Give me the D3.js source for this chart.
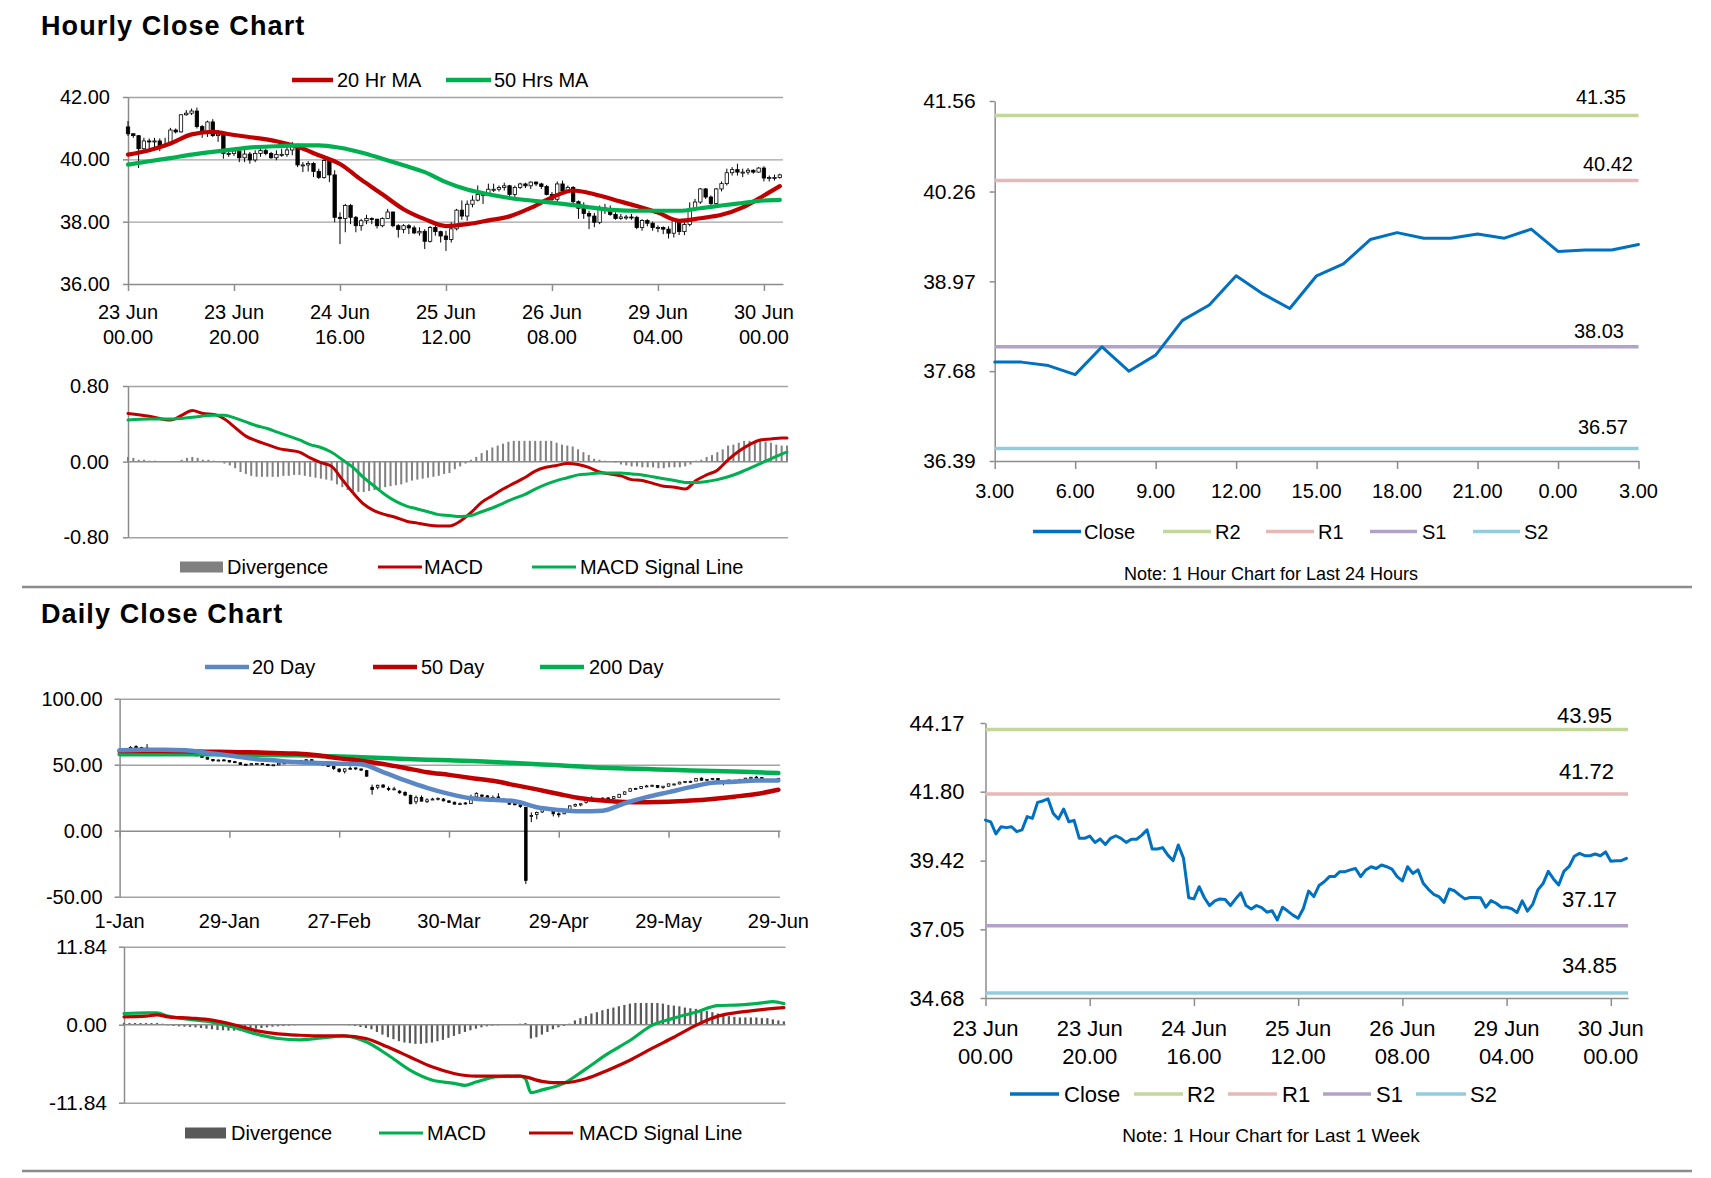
<!DOCTYPE html>
<html>
<head>
<meta charset="utf-8">
<script src="https://cdn.jsdelivr.net/npm/d3@7"></script>
<style>
  body { margin: 0; background: #fff; }
  svg { display: block; }
</style>
</head>
<body>
<svg id="chart" width="1711" height="1178"></svg>
<script>
// ---- data ----
const hourTickIdx = [0, 20, 40, 60, 80, 100, 120];
const hourTickLabels = [["23 Jun","00.00"],["23 Jun","20.00"],["24 Jun","16.00"],["25 Jun","12.00"],["26 Jun","08.00"],["29 Jun","04.00"],["30 Jun","00.00"]];

const hourFirstOpen = 41.04;
const hourClose = [
  40.82,40.76,40.34,40.59,40.56,40.59,40.42,40.48,40.94,40.88,
  41.43,41.48,41.55,41.05,40.86,41.20,40.76,40.81,40.19,40.19,
  40.27,40.05,40.17,39.98,40.19,40.28,40.19,40.05,40.16,40.16,
  40.30,40.48,39.82,39.82,39.87,39.61,39.42,39.96,39.50,38.14,
  38.10,38.52,38.14,37.87,38.03,38.10,38.08,37.87,38.10,38.31,
  37.87,37.75,37.87,37.80,37.64,37.69,37.37,37.81,37.68,37.54,
  37.43,37.77,38.37,38.18,38.56,38.69,38.87,38.87,39.04,39.04,
  39.10,39.15,38.87,39.10,39.21,39.15,39.27,39.21,39.13,38.87,
  38.72,39.21,38.98,39.10,38.64,38.43,38.26,38.18,37.98,38.44,
  38.38,38.23,38.10,38.15,38.15,38.14,37.81,38.04,37.95,
  37.81,37.81,37.76,37.63,38.03,37.68,37.91,38.41,38.63,39.05,
  38.79,38.58,39.05,39.22,39.57,39.67,39.59,39.59,39.65,39.59,
  39.72,39.40,39.42,39.42,39.50
];
const hourHigh = [
  41.23,40.84,40.77,40.69,40.67,40.69,40.67,40.69,41.01,40.99,
  41.44,41.58,41.63,41.66,41.10,41.24,41.29,40.94,40.85,40.34,
  40.34,40.30,40.34,40.24,40.29,40.37,40.34,40.24,40.29,40.34,
  40.40,40.56,40.51,39.91,39.94,39.91,39.70,40.02,39.97,39.65,
  38.30,38.57,38.57,38.18,38.09,38.22,38.14,38.09,38.14,38.41,
  38.32,37.92,37.92,37.92,37.87,37.82,37.76,37.86,37.95,37.71,
  37.71,37.98,38.41,38.68,38.68,38.84,39.16,38.95,39.22,39.22,
  39.16,39.25,39.18,39.16,39.25,39.25,39.29,39.29,39.25,39.18,
  38.95,39.29,39.32,39.16,39.14,38.68,38.62,38.35,38.28,38.52,
  38.57,38.52,38.30,38.25,38.22,38.25,38.19,38.08,38.08,38.00,
  37.88,37.85,37.85,38.06,38.08,37.98,38.62,38.73,39.08,39.08,
  38.84,39.08,39.29,39.70,39.75,39.86,39.70,39.72,39.68,39.75,
  39.78,39.48,39.51,39.54
];
const hourLow = [
  40.75,40.69,39.72,40.29,40.34,40.29,40.26,40.38,40.45,40.83,
  40.86,41.40,41.42,40.99,40.69,40.72,40.72,40.56,40.02,40.08,
  40.11,39.91,39.91,39.86,39.91,40.08,40.13,40.02,39.97,40.08,
  40.08,40.13,39.75,39.59,39.61,39.43,39.37,39.38,39.27,37.98,
  37.28,37.66,37.92,37.66,37.71,37.92,37.92,37.78,37.82,38.09,
  37.82,37.49,37.63,37.60,37.60,37.55,37.12,37.33,37.55,37.33,
  37.06,37.33,37.72,38.06,38.03,38.46,38.65,38.57,38.84,38.95,
  38.97,39.00,38.82,38.78,39.05,39.08,39.05,39.14,39.05,38.84,
  38.62,38.62,38.95,38.92,38.54,38.09,38.09,37.76,37.82,37.92,
  38.25,38.19,38.06,38.06,38.06,38.06,37.76,37.71,37.85,37.71,
  37.66,37.60,37.46,37.49,37.57,37.57,37.85,38.35,38.57,38.73,
  38.52,38.54,38.97,39.16,39.48,39.48,39.43,39.51,39.54,39.57,
  39.29,39.29,39.32,39.38
];

const hourMaIdx = [0,4,8,12,16,20,24,28,32,36,40,44,48,52,56,60,64,68,72,76,80,84,88,92,96,100,104,108,112,116,120,123];
const hourMa20 = [40.15,40.29,40.51,40.80,40.88,40.78,40.69,40.58,40.40,40.13,39.85,39.35,38.88,38.40,38.08,37.86,37.92,38.04,38.17,38.44,38.78,39.00,38.88,38.69,38.50,38.29,38.03,38.11,38.22,38.46,38.84,39.14];
const hourMa50 = [39.83,39.94,40.04,40.15,40.24,40.32,40.39,40.42,40.45,40.45,40.37,40.22,40.02,39.81,39.59,39.27,39.03,38.88,38.76,38.68,38.61,38.53,38.44,38.37,38.35,38.35,38.35,38.43,38.52,38.60,38.68,38.70];

const hourMacd = [[0,.51],[4,.48],[8,.44],[10,.49],[12,.54],[14,.51],[16,.50],[18,.45],[20,.36],[22,.27],[24,.22],[26,.18],[28,.14],[30,.12],[32,.10],[34,.04],[36,-.01],[38,-.05],[40,-.19],[42,-.33],[44,-.45],[46,-.52],[48,-.56],[50,-.59],[52,-.63],[54,-.65],[56,-.67],[58,-.68],[60,-.68],[62,-.63],[64,-.54],[66,-.43],[68,-.36],[70,-.29],[72,-.23],[74,-.17],[76,-.10],[78,-.06],[80,-.04],[82,-.02],[84,-.03],[86,-.06],[88,-.11],[90,-.13],[92,-.15],[94,-.19],[96,-.20],[98,-.23],[100,-.26],[102,-.27],[104,-.29],[106,-.20],[108,-.14],[110,-.09],[112,.02],[114,.11],[116,.18],[118,.23],[120,.24],[122,.25],[123,.25]];
const hourSignal = [[0,.44],[4,.45],[8,.45],[12,.47],[16,.49],[18,.49],[20,.46],[22,.42],[24,.38],[26,.35],[28,.31],[30,.27],[32,.23],[34,.18],[36,.15],[38,.10],[40,.02],[42,-.06],[44,-.17],[46,-.26],[48,-.35],[50,-.42],[52,-.47],[54,-.50],[56,-.53],[58,-.56],[60,-.57],[62,-.58],[64,-.57],[66,-.53],[68,-.49],[70,-.44],[72,-.39],[74,-.35],[76,-.29],[78,-.24],[80,-.20],[82,-.17],[84,-.14],[86,-.13],[88,-.12],[90,-.12],[92,-.12],[94,-.13],[96,-.14],[98,-.16],[100,-.18],[102,-.20],[104,-.22],[106,-.22],[108,-.21],[110,-.19],[112,-.16],[114,-.12],[116,-.07],[118,-.02],[120,.03],[122,.08],[123,.10]];
const hourDiv = [
  .05,.04,.02,.02,.01,.01, 0,0,0,0, .02,.04,.05,.04, .02,.02,.01,0,
  -.02,-.04,-.07,-.11,-.13,-.15,
  -.16,-.16,-.16,-.16,-.16,-.15,-.15,-.14,-.14,-.15,
  -.16,-.17,-.18,-.19,-.20,
  -.24,-.27,-.30,-.32,-.32,-.32,-.31,-.30,-.29,-.27,-.26,
  -.25,-.24,-.22,-.20,-.19,-.18,-.17,-.16,-.15,-.13,-.12,-.08,-.05,-.02,
  .02,.05,.09,.12,.15,.17,.19,.21,
  .22,.22,.22,.22,.22,.22,.22,.22,
  .20,.18,.17,.16,.13,.10,.07,.03,.02,.01,
  0,-.01,-.03,-.04,-.05,-.05,-.06,-.06,-.06,-.07,-.07,-.06,-.06,-.06,-.05,
  -.03,.01,.02,.05,.07,.10,.13,.17,.18,.20,.22,.22,.22,.22,.21,.20,.18,.17,.17
];

// last 24 hours = last 25 hourly closes
const last24Close = hourClose.slice(99);
const last24TickIdx = [0,3,6,9,12,15,18,21,24];
const last24TickLabels = ["3.00","6.00","9.00","12.00","15.00","18.00","21.00","0.00","3.00"];
const last24YTicks = [36.39, 37.68, 38.97, 40.26, 41.56];
const levels24 = [["R2", 41.35], ["R1", 40.42], ["S1", 38.03], ["S2", 36.57]];

const weekYTicks = [34.68, 37.05, 39.42, 41.80, 44.17];
const levelsWeek = [["R2", 43.95], ["R1", 41.72], ["S1", 37.17], ["S2", 34.85]];

// daily
const dayTickIdx = [0, 20, 40, 60, 80, 100, 120];
const dayTickLabels = ["1-Jan","29-Jan","27-Feb","30-Mar","29-Apr","29-May","29-Jun"];
// [open, high, low, close]
const dayCandles = [
  [61.0,61.6,60.6,61.1],[61.6,61.9,60.7,61.2],[61.2,64.1,61.1,63.1],[63.7,64.7,62.5,63.3],[63.0,63.6,62.3,62.7],
  [62.6,65.6,59.2,59.6],[59.7,60.0,58.7,59.6],[59.6,59.9,58.6,59.0],[59.0,59.2,57.8,58.1],[58.2,58.7,57.7,58.2],
  [58.2,58.6,57.4,57.8],[57.8,58.8,57.6,58.5],[58.5,58.9,58.1,58.5],[58.6,59.7,58.1,58.3],[58.4,58.6,56.5,56.7],
  [56.8,57.0,55.1,55.6],[55.6,55.9,54.0,54.2],[54.0,54.2,52.1,53.1],[53.2,54.0,52.7,53.5],[53.6,54.3,53.1,53.3],
  [53.2,53.5,51.6,52.1],[52.3,52.9,51.2,51.6],[51.5,51.7,49.9,50.1],[50.4,50.6,49.3,49.6],[49.9,51.0,49.6,50.8],
  [50.6,51.3,50.2,51.0],[50.9,51.3,49.9,50.3],[50.3,50.6,49.3,49.6],[49.6,50.2,49.3,49.9],[49.9,51.4,49.7,51.2],
  [51.3,51.8,50.9,51.4],[51.4,52.3,51.2,52.1],[52.1,52.6,51.8,52.1],[52.1,53.5,51.7,53.3],[53.3,54.0,53.0,53.8],
  [53.8,54.0,53.0,53.4],[52.3,52.4,51.0,51.4],[51.4,51.8,49.5,49.9],[49.9,50.4,48.5,48.7],[48.7,48.8,45.9,47.1],
  [46.7,47.3,44.0,44.8],[45.0,47.3,43.3,46.8],[47.3,48.7,46.4,47.2],[47.6,47.7,46.0,46.8],[46.8,47.0,45.3,45.9],
  [45.5,46.1,41.0,41.3],[32.9,34.9,27.3,31.1],[32.9,34.9,31.4,34.4],[34.6,35.3,32.4,33.0],[32.0,33.5,30.0,31.5],
  [31.1,33.3,30.7,31.7],[30.0,30.7,28.0,28.7],[29.0,29.9,26.2,27.0],[26.8,27.3,20.1,20.4],[21.9,26.7,20.1,25.2],
  [25.2,26.7,22.2,22.4],[22.0,24.6,20.9,23.4],[23.7,24.9,23.4,24.0],[24.4,25.2,22.9,24.5],[24.0,24.7,22.3,22.6],
  [22.6,22.9,21.0,21.5],[21.6,21.9,19.9,20.1],[20.2,21.4,19.9,20.5],[21.0,21.6,19.9,20.3],[20.5,27.4,20.2,25.3],
  [25.6,29.1,25.3,28.3],[27.0,27.6,25.3,26.1],[26.4,27.0,23.1,23.6],[24.3,26.7,23.7,25.1],[25.6,28.4,22.6,22.8],
  [23.0,24.7,21.5,22.4],[21.8,22.4,19.8,20.1],[20.4,21.1,19.2,19.9],[19.6,20.1,17.3,18.3],[17.7,17.9,-40.3,-37.6],
  [11.0,13.9,6.5,11.6],[12.3,14.5,8.6,13.8],[14.2,17.0,13.5,16.5],[16.5,17.1,15.0,16.9],[15.7,15.8,10.8,12.8],
  [12.8,13.9,10.1,12.3],[12.8,16.3,12.5,15.1],[15.5,19.1,15.0,18.8],[18.7,20.5,18.0,19.8],[19.5,20.5,18.5,20.4],
  [21.3,24.7,20.6,24.6],[24.6,26.1,23.5,24.0],[23.9,24.8,22.9,23.6],[24.0,25.3,23.5,24.7],[24.9,25.0,23.6,24.1],
  [24.4,26.2,24.1,25.8],[25.3,27.8,25.2,27.6],[27.6,29.8,27.2,29.4],[29.9,32.5,29.6,31.8],[31.8,32.5,31.3,32.0],
  [32.0,33.6,31.5,33.5],[33.5,34.7,33.3,33.9],[34.4,34.9,33.3,34.4],[34.3,34.5,32.2,32.8],[32.8,33.8,31.7,33.7],
  [33.7,35.6,33.6,35.5],[35.3,35.6,34.3,35.4],[35.4,37.1,35.2,36.8],[36.6,37.7,36.0,37.3],[37.3,37.9,36.2,37.4],
  [37.6,39.7,37.5,39.6],[39.8,40.4,37.9,38.2],[38.2,39.2,37.5,38.9],[38.9,39.8,38.4,39.6],[39.5,39.6,35.9,36.3],
  [35.8,37.4,34.4,37.1],[37.1,38.5,36.5,38.4],[38.2,38.5,37.2,38.0],[38.0,39.3,37.6,38.8],[38.9,40.0,38.6,39.8],
  [39.7,40.7,39.6,40.5],[40.6,41.6,40.0,40.4],[40.2,40.4,37.8,38.0],[38.0,38.9,37.1,38.7],[38.7,39.0,37.9,38.5],
  [38.7,39.8,38.4,39.7]
];
const dayMaIdx = [0,4,8,12,16,20,24,28,32,36,40,44,48,52,56,60,64,68,72,76,80,84,88,92,96,100,104,108,112,116,120];
const dayMa20 = [60.9,61.3,61.4,60.9,58.9,56.9,54.6,53.3,52.0,51.3,50.8,50.3,44.4,38.1,32.5,27.9,24.6,23.4,22.3,17.8,15.7,14.7,15.2,20.8,25.4,29.2,33.0,36.3,37.1,38.1,38.1];
const dayMa50 = [60.4,60.4,60.4,60.1,59.9,59.6,59.4,58.9,58.4,57.1,54.8,53.0,50.5,47.5,44.3,42.3,40.0,37.8,34.5,31.3,27.8,24.6,22.8,21.8,21.6,21.9,22.8,24.1,25.8,27.8,31.0];
const dayMa200 = [57.9,57.9,57.9,57.9,57.9,57.9,57.6,57.4,57.1,56.7,56.3,55.7,55.1,54.4,53.8,53.3,52.8,52.0,51.3,50.4,49.5,48.6,47.7,47.2,46.7,46.2,45.7,45.3,44.9,44.3,43.7];

const dayMacd = [[0,1.7],[4,1.8],[6,1.8],[8,1.3],[12,.8],[16,.4],[20,-.4],[24,-1.4],[28,-2.1],[32,-2.3],[36,-2.0],[40,-1.7],[44,-2.6],[48,-4.6],[52,-6.9],[56,-8.4],[60,-8.9],[62,-9.2],[64,-8.7],[68,-7.9],[72,-7.8],[73,-8.2],[74,-10.3],[76,-9.9],[80,-8.9],[84,-6.7],[88,-4.4],[92,-2.4],[96,-.1],[100,1.0],[104,1.9],[108,2.9],[112,3.0],[116,3.3],[118,3.5],[120,3.2]];
const daySignal = [[0,1.2],[4,1.3],[6,1.5],[8,1.2],[12,1.0],[16,.7],[20,0],[24,-.9],[28,-1.4],[32,-1.6],[36,-1.7],[40,-1.7],[44,-2.1],[48,-3.4],[52,-4.9],[56,-6.4],[60,-7.4],[64,-7.8],[68,-7.8],[72,-7.8],[76,-8.6],[78,-8.8],[80,-8.8],[84,-8.2],[88,-6.9],[92,-5.4],[96,-3.6],[100,-1.9],[104,-.1],[108,1.3],[112,1.9],[116,2.3],[120,2.6]];
const dayDiv = [
  .25,.25,.25,.25,.25,.25,.25, .15,
  -.1,-.2,-.25,-.3,-.35,-.4,
  -.5,-.6,-.7,-.8,-.85,-.9,-.9,
  -.85,-.8,-.7,-.6,-.5,-.4,-.3,-.25,-.2,-.15,-.1,-.05,
  -.05,-.05,-.05,-.05,-.05,-.05,-.05,-.05,
  -.1,-.2,-.35,-.5,-.7,-1.1,-1.5,-1.9,-2.2,-2.5,-2.7,-2.8,-2.9,-2.9,-2.8,
  -2.7,-2.5,-2.3,-2.0,-1.7,-1.4,-1.1,-.85,-.6,-.4,-.25,-.15,-.1,-.05,0,.05,.15,.25,
  -2.1,-1.9,-1.5,-1.1,-.7,-.4,-.2,.15,
  .65,1.0,1.3,1.7,1.9,2.2,2.4,2.6,2.8,3.0,3.2,3.3,3.3,3.3,3.3,3.3,3.2,3.0,
  2.9,2.8,2.6,2.5,2.4,2.3,2.1,1.9,1.7,1.5,1.3,1.2,1.1,1.1,1.1,1.1,1.0,1.0,.8,.65,.5
];

// ---- drawing ----
const FONT = "'Liberation Sans', Arial, Helvetica, sans-serif";
const GRID = "#a3a3a3";
const AXIS = "#8c8c8c";
const RED = "#c00000";
const GREEN = "#00b050";
const BLUE20 = "#5b87c5";
const CLOSE = "#0070c0";
const LEVEL = { R2: "#c3d69b", R1: "#e6b9b8", S1: "#b3a2c7", S2: "#93cddd" };

const svg = d3.select("#chart");
svg.append("rect").attr("width", 1711).attr("height", 1178).attr("fill", "#fff");

const fmt2 = d => d.toFixed(2);

function styleAxis(sel, fs) {
  sel.select(".domain").attr("stroke", AXIS).attr("stroke-width", 1.5);
  sel.selectAll(".tick line").attr("stroke", AXIS).attr("stroke-width", 1.5);
  sel.selectAll(".tick text").attr("font-size", fs).attr("font-family", FONT).attr("fill", "#000");
}

function gridLines(y, vals, x0, x1) {
  svg.append("g").attr("transform", `translate(${x0},0)`)
    .call(d3.axisLeft(y).tickValues(vals).tickSize(-(x1 - x0)).tickSizeOuter(0).tickFormat(""))
    .call(s => {
      s.select(".domain").remove();
      s.selectAll("line").attr("stroke", GRID).attr("stroke-width", 1.4);
    });
}

function yAxis(y, vals, x0, fs, pad) {
  svg.append("g").attr("transform", `translate(${x0},0)`)
    .call(d3.axisLeft(y).tickValues(vals).tickFormat(fmt2).tickSize(5).tickSizeOuter(0).tickPadding(pad))
    .call(s => styleAxis(s, fs));
}

function xAxisTicks(x, yPos, idx, size) {
  svg.append("g").attr("transform", `translate(0,${yPos})`)
    .call(d3.axisBottom(x).tickValues(idx).tickFormat("").tickSize(size).tickSizeOuter(0))
    .call(s => styleAxis(s, 12));
}

function text(x, y, str, fs, anchor, weight) {
  return svg.append("text").attr("x", x).attr("y", y).text(str)
    .attr("font-family", FONT).attr("font-size", fs)
    .attr("text-anchor", anchor || "start")
    .attr("font-weight", weight || "normal").attr("fill", "#000");
}

function legend(items, y, fs) {
  items.forEach(it => {
    if (it.box) {
      svg.append("rect").attr("x", it.x0).attr("y", y - 5.5).attr("width", it.x1 - it.x0).attr("height", 11).attr("fill", it.color);
    } else {
      svg.append("line").attr("x1", it.x0).attr("x2", it.x1).attr("y1", y).attr("y2", y)
        .attr("stroke", it.color).attr("stroke-width", it.w || 3.5);
    }
    text(it.tx, y, it.label, fs).attr("dy", "0.36em");
  });
}

function pathLine(pts, x, y, color, w, curve) {
  const gen = d3.line().x(d => x(d[0])).y(d => y(d[1]));
  if (curve) gen.curve(d3.curveMonotoneX);
  svg.append("path").datum(pts).attr("d", gen).attr("fill", "none")
    .attr("stroke", color).attr("stroke-width", w).attr("stroke-linejoin", "round").attr("stroke-linecap", "round");
}

function candles(x, y, rows, bw) {
  const g = svg.append("g");
  rows.forEach((r, i) => {
    const [o, h, l, c] = r;
    const cx = x(i);
    g.append("line").attr("x1", cx).attr("x2", cx).attr("y1", y(h)).attr("y2", y(l))
      .attr("stroke", "#000").attr("stroke-width", 1);
    const top = y(Math.max(o, c)), bot = y(Math.min(o, c));
    g.append("rect").attr("x", cx - bw / 2).attr("y", top).attr("width", bw)
      .attr("height", Math.max(1, bot - top))
      .attr("fill", c >= o ? "#fff" : "#000").attr("stroke", "#000").attr("stroke-width", 0.8);
  });
}

function bars(x, y, vals, bw, color) {
  svg.append("g").selectAll("rect").data(vals).join("rect")
    .attr("x", (d, i) => x(i) - bw / 2)
    .attr("y", d => Math.min(y(d), y(0)))
    .attr("width", bw)
    .attr("height", d => Math.abs(y(d) - y(0)))
    .attr("fill", color);
}

// ---- titles & separators ----
text(41, 35, "Hourly Close Chart", 27, "start", "bold").attr("letter-spacing", 1.1);
text(41, 623, "Daily Close Chart", 27, "start", "bold").attr("letter-spacing", 1.1);
[587, 1171].forEach(yy => svg.append("line").attr("x1", 22).attr("x2", 1692).attr("y1", yy).attr("y2", yy)
  .attr("stroke", AXIS).attr("stroke-width", 2.5));

// ---- hourly candlestick chart ----
{
  const x = d3.scaleLinear().domain([0, 123.6]).range([128, 783]);
  const y = d3.scaleLinear().domain([36, 42]).range([284, 97]);
  gridLines(y, [38, 40, 42], 128, 783);
  yAxis(y, [36, 38, 40, 42], 128, 20, 13);
  xAxisTicks(x, y(36), hourTickIdx, 7);
  hourTickIdx.forEach((t, k) => {
    text(x(t), 319, hourTickLabels[k][0], 20, "middle");
    text(x(t), 344, hourTickLabels[k][1], 20, "middle");
  });
  const rows = hourClose.map((c, i) => [i === 0 ? hourFirstOpen : hourClose[i - 1], hourHigh[i], hourLow[i], c]);
  candles(x, y, rows, 3.4);
  pathLine(hourMaIdx.map((t, k) => [t, hourMa20[k]]), x, y, RED, 4.2, true);
  pathLine(hourMaIdx.map((t, k) => [t, hourMa50[k]]), x, y, GREEN, 4.2, true);
  legend([
    { x0: 292, x1: 333, tx: 337, label: "20 Hr MA", color: RED, w: 4.5 },
    { x0: 446, x1: 491, tx: 494, label: "50 Hrs MA", color: GREEN, w: 4.5 }
  ], 80, 20);
}

// ---- hourly MACD ----
{
  const x = d3.scaleLinear().domain([0, 123]).range([128, 787]);
  const y = d3.scaleLinear().domain([-0.8, 0.8]).range([537.3, 386]);
  gridLines(y, [-0.8, 0.8], 128, 788);
  yAxis(y, [-0.8, 0, 0.8], 128, 20, 14);
  bars(x, y, hourDiv, 2, "#808080");
  svg.append("line").attr("x1", 128).attr("x2", 788).attr("y1", y(0)).attr("y2", y(0)).attr("stroke", AXIS).attr("stroke-width", 1.5);
  pathLine(hourMacd, x, y, RED, 3, true);
  pathLine(hourSignal, x, y, GREEN, 3, true);
  legend([
    { box: true, x0: 180, x1: 223, tx: 227, label: "Divergence", color: "#808080" },
    { x0: 378, x1: 422, tx: 424, label: "MACD", color: RED, w: 3 },
    { x0: 532, x1: 576, tx: 580, label: "MACD Signal Line", color: GREEN, w: 3 }
  ], 567, 20);
}

// ---- last 24 hours with pivots ----
{
  const x = d3.scaleLinear().domain([0, 24]).range([994.7, 1638.5]);
  const y = d3.scaleLinear().domain([36.39, 41.56]).range([461, 101]);
  const labelPos = { R2: [1626, 11.5], R1: [1633, 9], S1: [1624, 9], S2: [1628, 14] };
  yAxis(y, last24YTicks, 994.7, 21, 14);
  xAxisTicks(x, 461, last24TickIdx, 8);
  last24TickIdx.forEach((t, k) => text(x(t), 498, last24TickLabels[k], 20, "middle"));
  levels24.forEach(([name, v]) => {
    svg.append("line").attr("x1", x(0)).attr("x2", x(24)).attr("y1", y(v)).attr("y2", y(v))
      .attr("stroke", LEVEL[name]).attr("stroke-width", 3.5);
    text(labelPos[name][0], y(v) - labelPos[name][1], v.toFixed(2), 20, "end");
  });
  pathLine(last24Close.map((c, i) => [i, c]), x, y, CLOSE, 3, false);
  legend([
    { x0: 1033, x1: 1081, tx: 1084, label: "Close", color: CLOSE },
    { x0: 1163, x1: 1211, tx: 1215, label: "R2", color: LEVEL.R2 },
    { x0: 1266, x1: 1314, tx: 1318, label: "R1", color: LEVEL.R1 },
    { x0: 1370, x1: 1417, tx: 1422, label: "S1", color: LEVEL.S1 },
    { x0: 1473, x1: 1520, tx: 1524, label: "S2", color: LEVEL.S2 }
  ], 531.5, 20);
  text(1271, 579.5, "Note: 1 Hour Chart for Last 24 Hours", 18, "middle");
}

// ---- daily candlestick chart ----
{
  const x = d3.scaleLinear().domain([0, 120.3]).range([119.6, 780]);
  const y = d3.scaleLinear().domain([-50, 100]).range([896.7, 698.7]);
  gridLines(y, [-50, 50, 100], 119.6, 780);
  yAxis(y, [-50, 0, 50, 100], 119.6, 20, 12);
  xAxisTicks(x, y(0), dayTickIdx, 7);
  dayTickIdx.forEach((t, k) => text(x(t), 928, dayTickLabels[k], 20, "middle"));
  candles(x, y, dayCandles, 2.6);
  pathLine(dayMaIdx.map((t, k) => [t, dayMa200[k]]), x, y, GREEN, 4.5, true);
  pathLine(dayMaIdx.map((t, k) => [t, dayMa50[k]]), x, y, RED, 4.5, true);
  pathLine(dayMaIdx.map((t, k) => [t, dayMa20[k]]), x, y, BLUE20, 4.5, true);
  legend([
    { x0: 205, x1: 249, tx: 252, label: "20 Day", color: BLUE20, w: 4.5 },
    { x0: 373, x1: 417, tx: 421, label: "50 Day", color: RED, w: 4.5 },
    { x0: 540, x1: 584, tx: 589, label: "200 Day", color: GREEN, w: 4.5 }
  ], 667, 20);
}

// ---- daily MACD ----
{
  const x = d3.scaleLinear().domain([0, 120.3]).range([124, 785.5]);
  const y = d3.scaleLinear().domain([-11.84, 11.84]).range([1102.7, 946.7]);
  gridLines(y, [-11.84, 11.84], 124, 785.5);
  yAxis(y, [-11.84, 0, 11.84], 124, 21, 12);
  bars(x, y, dayDiv, 2.2, "#595959");
  svg.append("line").attr("x1", 124).attr("x2", 785.5).attr("y1", y(0)).attr("y2", y(0)).attr("stroke", AXIS).attr("stroke-width", 1.5);
  pathLine(dayMacd, x, y, GREEN, 3.2, true);
  pathLine(daySignal, x, y, RED, 3.2, true);
  legend([
    { box: true, x0: 185, x1: 226, tx: 231, label: "Divergence", color: "#595959" },
    { x0: 379, x1: 423, tx: 427, label: "MACD", color: GREEN, w: 3 },
    { x0: 529, x1: 573, tx: 579, label: "MACD Signal Line", color: RED, w: 3 }
  ], 1133, 20);
}

// ---- last week with pivots ----
{
  const x = d3.scaleLinear().domain([0, 123.3]).range([985.5, 1628]);
  const y = d3.scaleLinear().domain([34.68, 44.17]).range([998, 723]);
  const labelPos = { R2: [1612, 6.5], R1: [1614, 15], S1: [1617, 18.5], S2: [1617, 20.5] };
  yAxis(y, weekYTicks, 985.5, 22, 16);
  xAxisTicks(x, 998, hourTickIdx, 8);
  hourTickIdx.forEach((t, k) => {
    text(x(t), 1036, hourTickLabels[k][0], 22, "middle");
    text(x(t), 1064, hourTickLabels[k][1], 22, "middle");
  });
  levelsWeek.forEach(([name, v]) => {
    svg.append("line").attr("x1", x(0)).attr("x2", 1628).attr("y1", y(v)).attr("y2", y(v))
      .attr("stroke", LEVEL[name]).attr("stroke-width", 3.5);
    text(labelPos[name][0], y(v) - labelPos[name][1], v.toFixed(2), 22, "end");
  });
  pathLine(hourClose.map((c, i) => [i, c]), x, y, CLOSE, 3, false);
  legend([
    { x0: 1010, x1: 1059, tx: 1064, label: "Close", color: CLOSE },
    { x0: 1134, x1: 1183, tx: 1187, label: "R2", color: LEVEL.R2 },
    { x0: 1228, x1: 1277, tx: 1282, label: "R1", color: LEVEL.R1 },
    { x0: 1323, x1: 1371, tx: 1376, label: "S1", color: LEVEL.S1 },
    { x0: 1416, x1: 1466, tx: 1470, label: "S2", color: LEVEL.S2 }
  ], 1094, 22);
  text(1271, 1142, "Note: 1 Hour Chart for Last 1 Week", 19, "middle");
}
</script>
</body>
</html>
